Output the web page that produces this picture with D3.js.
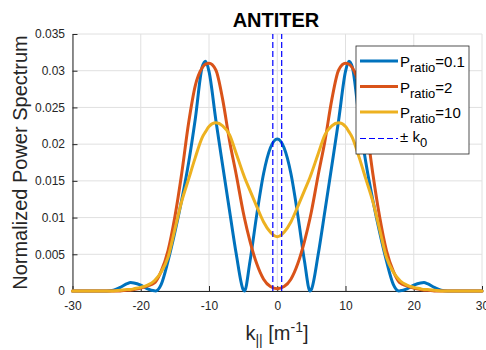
<!DOCTYPE html>
<html><head><meta charset="utf-8">
<script src="https://cdn.jsdelivr.net/npm/d3@7"></script>
<style>
body{margin:0;background:#fff}
svg{display:block;font-family:"Liberation Sans",Arial,Helvetica,sans-serif}
</style>
</head><body>
<svg id="chart" width="486" height="350"></svg>
<script>
// ---- data ----
const kValues = [-30,-27,-25,-24,-23,-22,-21.5,-21,-20,-19,-18,-17.8,-17,-16,-15,-14,-13,-12,-11,-10.5,-10,-9,-8,-7,-6,-5,-4.8,-4,-3,-2,-1,0,
                 1,2,3,4,4.8,5,6,7,8,9,10,10.5,11,12,13,14,15,16,17,17.8,18,19,20,21,21.5,22,23,24,25,27,30];
const pRatio01 = [0,0,0,0.0001,0.0005,0.0010,0.00115,0.0011,0.0008,0.0003,0.00002,0,0.0009,0.0041,0.0080,0.0124,0.0174,0.0235,0.0305,0.0313,0.0299,0.0233,0.0171,0.0110,0.0050,0.0002,0,0.0040,0.0104,0.0160,0.0195,0.0207,
                  0.0195,0.0160,0.0104,0.0040,0,0.0002,0.0050,0.0110,0.0171,0.0233,0.0299,0.0313,0.0305,0.0235,0.0174,0.0124,0.0080,0.0041,0.0009,0,0.00002,0.0003,0.0008,0.0011,0.00115,0.0010,0.0005,0.0001,0,0,0];
const pRatio2 = [0,0,0,0,0,0.0001,0.0001,0.0002,0.0004,0.0007,0.0011,0.0013,0.0027,0.0055,0.0101,0.0160,0.0228,0.0280,0.0304,0.0309,0.0310,0.0301,0.0261,0.0205,0.0158,0.0108,0.0099,0.0068,0.0037,0.0016,0.0006,0.0003,
                 0.0006,0.0016,0.0037,0.0068,0.0099,0.0108,0.0158,0.0205,0.0261,0.0301,0.0310,0.0309,0.0304,0.0280,0.0228,0.0160,0.0101,0.0055,0.0027,0.0013,0.0011,0.0007,0.0004,0.0002,0.0001,0.0001,0,0,0,0,0];
const pRatio10 = [0,0,0,0,0.0001,0.0002,0.0002,0.0003,0.0005,0.0008,0.0014,0.0016,0.0026,0.0046,0.0084,0.0122,0.0152,0.0182,0.0209,0.0217,0.0224,0.0229,0.0225,0.0213,0.0187,0.0160,0.0155,0.0137,0.0115,0.0094,0.0080,0.0074,
                  0.0080,0.0094,0.0115,0.0137,0.0155,0.0160,0.0187,0.0213,0.0225,0.0229,0.0224,0.0217,0.0209,0.0182,0.0152,0.0122,0.0084,0.0046,0.0026,0.0016,0.0014,0.0008,0.0005,0.0003,0.0002,0.0002,0.0001,0,0,0,0];
const k0 = 0.65;
const xTicks = [-30,-20,-10,0,10,20,30];
const xTickLabels = ["-30","-20","-10","0","10","20","30"];
const yTicks = [0,0.005,0.01,0.015,0.02,0.025,0.03,0.035];
const yTickLabels = ["0","0.005","0.01","0.015","0.02","0.025","0.03","0.035"];
const seriesLabels = ["=0.1","=2","=10"];
const seriesColors = ["#0072BD","#D95319","#EDB120"];
const seriesData = [pRatio01, pRatio2, pRatio10];

// ---- drawing ----
const svg = d3.select("#chart");
const x = d3.scaleLinear().domain([-30,30]).range([72.5,482]);
const y = d3.scaleLinear().domain([0,0.035]).range([291,34]);
const axisColor = "#262626";

// grid
const grid = svg.append("g");
grid.selectAll("line.gx").data(xTicks).join("line")
  .attr("x1",d=>x(d)).attr("x2",d=>x(d)).attr("y1",y(0)).attr("y2",y(0.035))
  .attr("stroke","#e0e0e0").attr("stroke-width",1);
grid.selectAll("line.gy").data(yTicks).join("line")
  .attr("x1",x(-30)).attr("x2",x(30)).attr("y1",d=>y(d)).attr("y2",d=>y(d))
  .attr("stroke","#e0e0e0").attr("stroke-width",1);

// axes
const xAxis = d3.axisBottom(x).tickValues(xTicks).tickFormat((d,i)=>xTickLabels[i])
  .tickSizeInner(-5).tickSizeOuter(0).tickPadding(10);
const yAxis = d3.axisLeft(y).tickValues(yTicks).tickFormat((d,i)=>yTickLabels[i])
  .tickSizeInner(-5).tickSizeOuter(0).tickPadding(7.5);
const gx = svg.append("g").attr("transform",`translate(0,${y(0)})`).call(xAxis);
const gy = svg.append("g").attr("transform",`translate(${x(-30)},0)`).call(yAxis);
[gx,gy].forEach(g=>{
  g.select(".domain").attr("stroke",axisColor).attr("stroke-width",1);
  g.selectAll(".tick line").attr("stroke",axisColor);
  g.selectAll(".tick text").attr("fill",axisColor).attr("font-size",12)
   .attr("font-family","'Liberation Sans',Arial,sans-serif");
});

// curves
const line = d3.line().x((d,i)=>x(kValues[i])).y(d=>y(d)).curve(d3.curveMonotoneX);
seriesData.forEach((s,i)=>{
  svg.append("path").datum(s).attr("d",line).attr("fill","none")
    .attr("stroke",seriesColors[i]).attr("stroke-width",3)
    .attr("stroke-linejoin","round").attr("stroke-linecap","round");
});

// +/- k0 dashed lines
svg.selectAll("line.k0").data([-k0,k0]).join("line")
  .attr("x1",d=>x(d)).attr("x2",d=>x(d)).attr("y1",y(0)).attr("y2",y(0.035))
  .attr("stroke","#0000ff").attr("stroke-width",1.2).attr("stroke-dasharray","6,3");

// title
svg.append("text").attr("x",276).attr("y",26.5).attr("text-anchor","middle")
  .attr("font-size",20).attr("font-weight","bold").attr("fill","#000").text("ANTITER");

// y label
svg.append("text").attr("transform","translate(27,162.5) rotate(-90)")
  .attr("text-anchor","middle").attr("font-size",20).attr("fill",axisColor)
  .text("Normalized Power Spectrum");

// x label
const xl = svg.append("text").attr("x",277).attr("y",340).attr("text-anchor","middle")
  .attr("font-size",20).attr("fill",axisColor);
xl.append("tspan").text("k");
xl.append("tspan").attr("font-size",14).attr("dy",5).text("||");
xl.append("tspan").attr("dy",-5).text(" [m");
xl.append("tspan").attr("font-size",14).attr("dy",-8).text("-1");
xl.append("tspan").attr("dy",8).text("]");

// legend
const lg = svg.append("g");
lg.append("rect").attr("x",356).attr("y",46).attr("width",113).attr("height",108)
  .attr("fill","#fff").attr("stroke",axisColor).attr("stroke-width",0.8);
const rowY = [61,86.5,112,138.5];
seriesLabels.forEach((lab,i)=>{
  lg.append("line").attr("x1",360).attr("x2",398).attr("y1",rowY[i]).attr("y2",rowY[i])
    .attr("stroke",seriesColors[i]).attr("stroke-width",3);
  const t = lg.append("text").attr("x",400).attr("y",rowY[i]+6).attr("font-size",15).attr("fill","#000");
  t.append("tspan").text("P");
  t.append("tspan").attr("font-size",13).attr("dy",5).text("ratio");
  t.append("tspan").attr("dy",-5).text(lab);
});
lg.append("line").attr("x1",360).attr("x2",398).attr("y1",rowY[3]).attr("y2",rowY[3])
  .attr("stroke","#0000ff").attr("stroke-width",1).attr("stroke-dasharray","6,3");
const t4 = lg.append("text").attr("x",400).attr("y",rowY[3]+3).attr("font-size",15).attr("fill","#000");
t4.append("tspan").text("\u00B1 k");
t4.append("tspan").attr("font-size",13).attr("dy",5).text("0");
</script>
</body></html>
